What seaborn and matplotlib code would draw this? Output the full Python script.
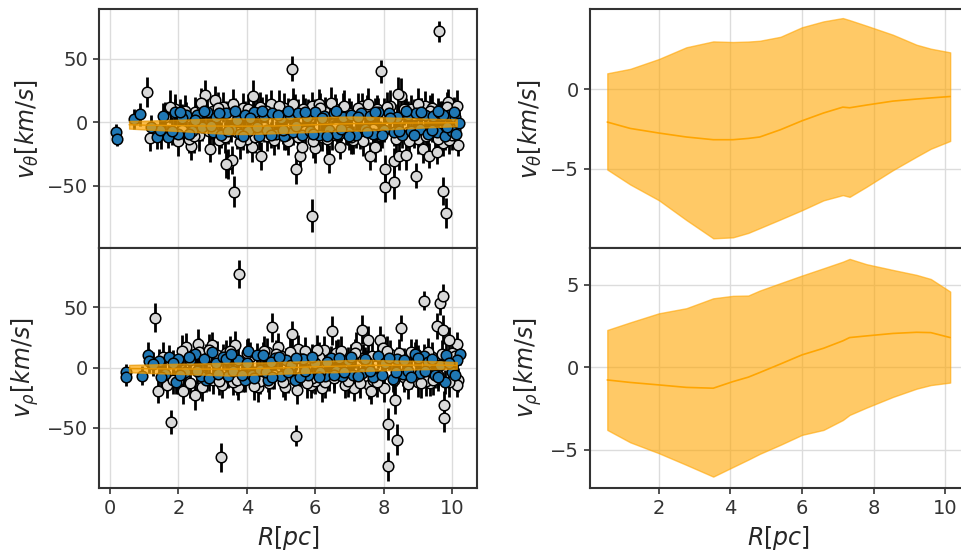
import numpy as np
import pandas as pd
import matplotlib
matplotlib.use("Agg")
import matplotlib.pyplot as plt
import seaborn as sns

# ---------------- data ----------------
# Posterior band: x, lower, mean, upper
band_x = [0.56, 1.2, 2.0, 2.77, 3.52, 4.07, 4.5, 4.82, 5.4, 6.0, 6.6, 7.14, 7.33, 7.8, 8.54, 9.2, 9.6, 10.14]
th_low = [-5.06, -6.0, -6.99, -8.24, -9.39, -9.33, -9.05, -8.75, -8.2, -7.62, -7.0, -6.67, -6.78, -6.15, -5.1, -4.25, -3.75, -3.26]
th_mean = [-2.07, -2.47, -2.76, -3.01, -3.18, -3.18, -3.1, -3.01, -2.55, -1.99, -1.5, -1.13, -1.17, -1.0, -0.75, -0.62, -0.55, -0.46]
th_up = [1.0, 1.28, 1.9, 2.64, 3.01, 2.97, 3.0, 3.05, 3.3, 3.9, 4.27, 4.48, 4.35, 4.0, 3.43, 2.8, 2.55, 2.32]

rh_low = [-3.80, -4.55, -5.21, -5.92, -6.63, -6.05, -5.6, -5.25, -4.7, -4.10, -3.8, -3.2, -2.89, -2.45, -1.8, -1.3, -1.08, -0.93]
rh_mean = [-0.77, -0.92, -1.07, -1.22, -1.27, -0.87, -0.6, -0.32, 0.2, 0.75, 1.15, 1.6, 1.8, 1.9, 2.05, 2.12, 2.1, 1.8]
rh_up = [2.26, 2.72, 3.27, 3.58, 4.18, 4.33, 4.35, 4.65, 5.1, 5.56, 6.0, 6.4, 6.57, 6.25, 5.9, 5.6, 5.35, 4.59]

# v_theta observed: grey points
tg_x = [1.09, 5.31, 7.92, 9.63, 3.63, 5.9, 9.73, 9.82, 8.04, 8.04, 8.29, 8.29, 8.45, 8.64, 8.94, 9.16, 9.34,
        9.57, 9.75, 10.16, 7.61, 7.75, 7.36, 7.8, 9.89, 9.21, 8.5, 8.43, 3.44, 3.56, 4.19, 4.39, 4.41, 4.14,
        5.44, 5.56, 5.6, 6.0, 6.41, 6.73, 6.58, 5.92, 6.1, 1.17, 2.36, 2.79, 3.06, 2.92, 3.38,
        1.6, 2.1, 2.5, 2.6, 2.7, 3.0, 3.2, 3.5, 3.7, 3.9, 4.0, 4.3, 4.6, 4.7, 4.9, 5.0, 5.2, 5.4, 5.7, 5.8,
        6.2, 6.3, 6.5, 6.8, 6.9, 7.0, 7.1, 7.3, 7.5, 7.7, 8.0, 8.2, 8.7, 8.8, 9.0, 9.1, 9.4, 9.5, 9.7, 9.9,
        10.05, 10.1, 1.9, 2.3, 3.3, 4.5, 5.1, 6.6, 7.9, 8.9,
        1.5, 1.75, 2.0, 2.2, 2.45, 2.65, 2.9, 3.15, 3.35, 3.6, 3.8, 4.05, 4.25, 4.55, 4.8, 4.95, 5.15, 5.35,
        5.5, 5.65, 5.95, 6.15, 6.35, 6.45, 6.7, 6.85, 7.05, 7.25, 7.4, 7.55, 7.85, 8.1, 8.35, 8.6, 8.75, 9.0,
        9.25, 9.35, 9.6, 9.85, 10.0, 10.15]
tg_y = [23.6, 42, 40, 71.4, -54.6, -73.5, -53.8, -71.4, -36.8, -51.2, -47.2, -30.2, -27, -25.8, -42, -21, -26.3,
        -23.6, -16.3, -17.6, -26.3, -19.7, 13, 10.5, 16.2, 12.6, 20.5, 22.3, -32.8, -29.4, 20.5, 11.8, -26.3, -19.7,
        -36.8, -26.3, -19.7, -20.5, -28.9, -19.2, 10.5, 12.6, 14.4, -12.6, -18.9, 21.5, 17.8, -21, -32.8,
        4, -6, 8, -10, 13, 9, -14, 6, -8, 11, -13, 7, -11, 14, -9, 5, -15, 9, -7, 6,
        -12, 8, -10, 12, -6, 7, -14, -9, 9, -5, 8, 13, -8, 10, -13, 7, 11, -9, 5, -14,
        8, -5, 10, -13, 12, -4, 11, -4, -11, 6,
        -9, 12, -15, 9, -11, 15, -7, 11, -12, 14, -16, 10, -12, 9, -14, 13, -10, 14,
        -12, 10, -15, 11, -13, 15, -9, 13, -12, 11, -15, 14, -9, 12, -13, 10, -15, 14,
        -11, 9, -13, 12, -10, 13]
tg_e = [12, 10, 9, 8, 12, 13, 11, 12, 11, 12, 13, 10, 11, 12, 10, 11, 10,
        9, 10, 9, 11, 12, 10, 11, 10, 12, 14, 13, 12, 11, 13, 12, 11, 12,
        12, 11, 10, 12, 11, 10, 12, 11, 12, 10, 11, 12, 11, 10, 11,
        12, 11, 12, 13, 11, 12, 11, 12, 13, 12, 11, 12, 12, 11, 12, 12, 11, 13, 12, 12,
        11, 12, 12, 11, 12, 12, 11, 12, 12, 12, 11, 12, 12, 11, 12, 12, 12, 11, 12, 11,
        12, 11, 12, 11, 12, 12, 12, 11, 12, 12,
        12, 13, 12, 12, 13, 12, 12, 13, 12, 12, 13, 12, 12, 13, 12, 12, 12, 13,
        12, 12, 13, 12, 12, 13, 12, 12, 13, 12, 12, 13, 12, 12, 13, 12, 12, 13,
        12, 12, 13, 12, 12, 12]

# v_theta observed: blue points
tb_x = [0.18, 0.21, 0.7, 0.88, 1.38, 1.7, 1.9, 2.23, 1.45, 2.0, 2.1, 2.4, 2.55, 2.7, 2.85, 3.0, 3.1, 3.25,
        3.4, 3.55, 3.7, 3.8, 3.95, 4.05, 4.2, 4.35, 4.5, 4.6, 4.75, 4.85, 5.0, 5.1, 5.25, 5.35, 5.5, 5.6,
        5.75, 5.85, 6.0, 6.1, 6.25, 6.4, 6.55, 6.65, 6.8, 6.95, 7.05, 7.2, 7.35, 7.45, 7.6, 7.7, 7.85, 8.0,
        8.15, 8.3, 8.4, 8.55, 8.7, 8.8, 8.95, 9.05, 9.2, 9.3, 9.45, 9.55, 9.65, 9.8, 9.9, 10.0, 10.1, 10.2,
        10.12, 9.75,
        1.2, 1.55, 1.8, 2.05, 2.3, 2.5, 2.75, 2.95, 3.2, 3.45, 3.65, 3.9, 4.1, 4.3, 4.45, 4.7, 4.9, 5.05,
        5.2, 5.45, 5.7, 5.95, 6.2, 6.35, 6.6, 6.75, 7.0, 7.25, 7.5, 7.75, 7.95, 8.2, 8.45, 8.65, 8.9, 9.1,
        9.4, 9.6, 9.85, 10.05]
tb_y = [-7.4, -13, 2.6, 6.3, -11.3, -11.3, 7.9, 5.7, -6, -9, 3, -7, 6, -4, 8, -8, 4, -10,
        7, -5, 2, -9, 6, -7, 8, -11, 5, -6, 7, -9, 3, -11, 6, -8, 7, -10,
        4, -7, 8, -10, 5, -6, 7, -9, 4, -8, 6, -10, 7, -5, 5, -9, 8, -6,
        7, -8, 4, -10, 6, -7, 7, -5, 6, -9, 5, -8, 7, -11, 6, -7, 4, -1,
        -9, 6,
        -4, 5, -7, 8, -9, 2, 9, -3, 7, -7, 9, -11, 3, -4, 9, -10, 6, -6,
        9, -3, 8, -9, 3, -11, 9, -5, -11, 4, -8, 8, -10, 3, -7, 9, -10, 8,
        -6, 9, -4, 8]
tb_e = [6, 6, 8, 9, 10, 9, 10, 10, 10, 10, 11, 10, 10, 11, 10, 10, 11, 10,
        10, 11, 10, 10, 11, 10, 10, 11, 10, 10, 11, 10, 10, 11, 10, 10, 11, 10,
        10, 11, 10, 10, 11, 10, 10, 11, 10, 10, 11, 10, 10, 11, 10, 10, 11, 10,
        10, 11, 10, 10, 11, 10, 10, 11, 10, 10, 11, 10, 10, 11, 10, 10, 10, 9,
        10, 10,
        10, 10, 11, 10, 10, 11, 10, 10, 11, 10, 10, 11, 10, 10, 11, 10, 10, 11,
        10, 10, 11, 10, 10, 11, 10, 10, 11, 10, 10, 11, 10, 10, 11, 10, 10, 11,
        10, 10, 11, 10]

# v_rho observed: grey points
rg_x = [1.32, 1.79, 3.25, 3.78, 4.75, 5.31, 6.5, 5.44, 9.18, 9.65, 9.75, 9.57, 9.73, 8.5, 8.14, 8.12, 8.38,
        8.33, 9.77, 9.77, 10.18, 10.14, 7.36, 7.55, 7.89, 7.99, 7.2, 10.14, 9.92, 7.13, 7.58, 7.62, 8.0, 9.36,
        9.24, 1.41, 1.68, 2.14, 2.23, 2.5, 2.58, 2.99, 3.14, 3.27, 3.65, 3.75, 4.34, 4.92, 5.13, 5.46, 5.49,
        5.7, 5.88, 6.19, 6.27, 6.68, 6.87,
        2.8, 3.0, 3.4, 3.9, 4.1, 4.4, 4.6, 4.8, 5.0, 5.2, 5.6, 6.0, 6.1, 6.4, 6.6, 7.0, 7.4, 7.7, 8.2, 8.6,
        8.8, 9.0, 9.4, 9.6, 10.0, 2.0, 2.6, 3.6, 4.5, 5.9,
        1.55, 1.85, 2.1, 2.35, 2.7, 2.9, 3.2, 3.5, 3.7, 4.0, 4.2, 4.65, 4.85, 5.05, 5.25, 5.75, 6.05, 6.3,
        6.55, 6.75, 6.95, 7.15, 7.3, 7.65, 7.8, 8.1, 8.3, 8.45, 8.7, 8.95, 9.1, 9.3, 9.45, 9.7, 9.9, 10.1]
rg_y = [41.3, -45.1, -74.4, 77.8, 33.5, 28, 30.7, -56.5, 55.6, 53.7, 59.8, 34.4, 31.6, 33, -46.8, -81.9, -59.8,
        -26.6, -30.7, -41.8, -10, -14.4, 31.6, 23.3, 22.8, 16.6, 17.2, 19.7, 22.8, -17.1, -14.1, -19.3, -16.9, -12.7,
        -11.3, -19.1, -14.6, -19.1, 16.9, -22.9, 19.7, 18.6, 10.3, -14.6, 18.6, -16.3, -16.3, 16.9, -16.3, -18.3, 15.8,
        13.6, -14.1, -16.9, 15, 11.4, -14.1,
        8, -10, 12, -8, 9, -11, 13, -6, 10, -9, 7, -11, 9, -7, 12, -9, 8, -10, 11, -8,
        13, -12, 9, -6, 12, -11, 13, -12, 14, -9,
        9, -10, 14, -13, -16, 15, -11, 14, -10, 12, -15, -13, 11, -12, 13, -13, 15, -12,
        -9, 14, -11, 12, -13, 10, -12, 14, -10, 12, -14, 11, -13, 13, -10, 11, -12, 10]
rg_e = [12, 10, 12, 12, 12, 11, 12, 9, 8, 10, 10, 11, 12, 11, 13, 12, 13,
        12, 11, 12, 10, 10, 12, 11, 12, 11, 12, 10, 11, 11, 12, 11, 12, 11,
        12, 10, 11, 11, 12, 12, 12, 11, 12, 11, 12, 11, 12, 12, 11, 12, 11,
        12, 11, 12, 11, 12, 11,
        12, 12, 11, 12, 12, 11, 12, 12, 11, 12, 12, 11, 12, 12, 11, 12, 12, 11, 12, 12,
        11, 12, 12, 11, 12, 11, 12, 11, 12, 12,
        12, 12, 13, 12, 12, 13, 12, 12, 13, 12, 12, 13, 12, 12, 13, 12, 12, 13,
        12, 12, 13, 12, 12, 13, 12, 12, 13, 12, 12, 13, 12, 12, 13, 12, 12, 12]

# v_rho observed: blue points
rb_x = [0.46, 0.48, 0.94, 1.11, 1.14, 1.43, 1.73, 1.92, 2.0, 2.5, 2.8, 2.97, 4.04, 4.29, 4.48, 4.82, 4.63,
        3.95, 5.41, 5.8, 6.29, 6.78, 3.46, 7.85, 8.27, 8.56, 9.06, 9.18, 9.5, 9.8, 9.82, 10.23, 7.36, 8.92,
        1.6, 2.2, 2.35, 2.65, 3.1, 3.3, 3.6, 3.75, 4.15, 4.4, 4.7, 5.0, 5.15, 5.3, 5.55, 5.65, 6.0, 6.15,
        6.45, 6.6, 6.95, 7.1, 7.5, 7.7, 8.05, 8.4, 8.7, 9.3, 9.65, 10.0, 10.15,
        1.25, 1.5, 1.85, 2.05, 2.3, 2.55, 2.75, 2.9, 3.15, 3.4, 3.55, 3.85, 4.0, 4.2, 4.55, 4.75, 4.95, 5.2,
        5.45, 5.7, 5.9, 6.1, 6.35, 6.55, 6.7, 6.85, 7.05, 7.25, 7.45, 7.6, 7.95, 8.15, 8.35, 8.6, 8.8, 9.0,
        9.2, 9.4, 9.6, 9.9, 10.1]
rb_y = [-3.6, -8, -6.6, 10.3, 5.8, 5.8, 8.6, -11.9, 7.5, 11.4, -10.5, 13, 13.6, 10.8, 10.3, 8.1, -10,
        -10, -10, -5.8, -7.1, -7.1, -7.1, 9.5, -9.1, -5.2, -4.4, 9.5, -6, -11.6, 10.5, 11.1, -4.4, 11.6,
        -5, -4, 6, -7, 4, 9, -3, 6, -6, -2, 5, -7, 6, 2, -8, 7, 4, -4,
        8, -3, 6, -6, 5, -8, 4, 7, -3, 5, 2, -4, 6,
        3, -8, 4, -6, 9, -3, 7, -9, -5, 7, 11, -6, 4, -9, -4, -8, 9, -4,
        8, -3, 9, -8, 5, -6, 8, -4, 9, -7, 7, -3, -6, 8, -4, 6, -8, 8,
        -3, 7, -8, 4, -6]
rb_e = [7, 7, 8, 11, 10, 10, 10, 10, 10, 11, 10, 11, 11, 10, 11, 10, 10,
        10, 11, 10, 10, 10, 10, 10, 11, 10, 10, 10, 11, 10, 10, 9, 10, 10,
        10, 10, 11, 10, 10, 11, 10, 10, 11, 10, 10, 11, 10, 10, 11, 10, 10, 11,
        10, 10, 11, 10, 10, 11, 10, 10, 11, 10, 10, 10, 10,
        10, 10, 11, 10, 10, 11, 10, 10, 11, 10, 10, 11, 10, 10, 11, 10, 10, 11,
        10, 10, 11, 10, 10, 11, 10, 10, 11, 10, 10, 11, 10, 10, 11, 10, 10, 11,
        10, 10, 11, 10, 10]

ORANGE = "orange"
BLUE = "#1f77b4"
GREY = "#d9d9d9"

sns.set_theme(style="whitegrid", rc={
    "axes.edgecolor": "#333333",
    "axes.linewidth": 1.5,
    "grid.color": "#dcdcdc",
    "grid.linewidth": 1.0,
    "xtick.bottom": True,
    "ytick.left": True,
    "xtick.color": "#333333",
    "ytick.color": "#333333",
    "xtick.major.size": 4,
    "ytick.major.size": 4,
    "xtick.major.width": 1.2,
    "ytick.major.width": 1.2,
})
plt.rcParams["font.family"] = ["DejaVu Sans"]
plt.rcParams["mathtext.fontset"] = "dejavusans"

fig = plt.figure(figsize=(9.61, 5.52), dpi=100)
lx0, lx1 = 99 / 961, 477 / 961
rx0, rx1 = 590 / 961, 967 / 961
ytop, ymid, ybot = 1 - 9 / 552, 1 - 248 / 552, 1 - 488 / 552

ax_tl = fig.add_axes([lx0, ymid, lx1 - lx0, ytop - ymid])
ax_bl = fig.add_axes([lx0, ybot, lx1 - lx0, ymid - ybot], sharex=ax_tl)
ax_tr = fig.add_axes([rx0, ymid, rx1 - rx0, ytop - ymid])
ax_br = fig.add_axes([rx0, ybot, rx1 - rx0, ymid - ybot], sharex=ax_tr)


def draw_obs(ax, gx, gy, ge, bx, by, be, low, mean, up):
    ax.errorbar(gx, gy, yerr=ge, fmt="none", ecolor="black", elinewidth=2, zorder=2)
    ax.errorbar(bx, by, yerr=be, fmt="none", ecolor="black", elinewidth=2, zorder=2)
    dg = pd.DataFrame({"R": gx, "v": gy})
    db = pd.DataFrame({"R": bx, "v": by})
    sns.scatterplot(data=dg, x="R", y="v", ax=ax, color=GREY, s=58, edgecolor="black",
                    linewidth=1.1, zorder=3)
    sns.scatterplot(data=db, x="R", y="v", ax=ax, color=BLUE, s=58, edgecolor="black",
                    linewidth=1.1, zorder=4)
    ax.fill_between(band_x, low, up, color=ORANGE, alpha=0.7, edgecolor="#e69500", lw=1, zorder=5)
    sns.lineplot(x=band_x, y=mean, ax=ax, color="#e69500", lw=1, zorder=6)


def draw_band(ax, low, mean, up):
    ax.fill_between(band_x, low, up, color=ORANGE, alpha=0.6, edgecolor=ORANGE, lw=1, zorder=2)
    sns.lineplot(x=band_x, y=mean, ax=ax, color=ORANGE, lw=1.2, zorder=3)


draw_obs(ax_tl, tg_x, tg_y, tg_e, tb_x, tb_y, tb_e, th_low, th_mean, th_up)
draw_obs(ax_bl, rg_x, rg_y, rg_e, rb_x, rb_y, rb_e, rh_low, rh_mean, rh_up)
draw_band(ax_tr, th_low, th_mean, th_up)
draw_band(ax_br, rh_low, rh_mean, rh_up)

ax_tl.set_xlim(-0.32, 10.73)
ax_tl.set_ylim(-99, 89)
ax_bl.set_ylim(-100, 99.4)
ax_tl.set_yticks([-50, 0, 50])
ax_bl.set_yticks([-50, 0, 50])
ax_bl.set_xticks([0, 2, 4, 6, 8, 10])

ax_tr.set_xlim(0.077, 10.61)
ax_tr.set_ylim(-10.0, 5.05)
ax_br.set_ylim(-7.32, 7.23)
ax_tr.set_yticks([-5, 0])
ax_br.set_yticks([-5, 0, 5])
ax_br.set_xticks([2, 4, 6, 8, 10])

for ax in (ax_tl, ax_tr):
    ax.tick_params(labelbottom=False)
    ax.set_xlabel("")

lab_fs = 17
ax_tl.set_ylabel(r"$v_{\theta}[km/s]$", fontsize=lab_fs)
ax_bl.set_ylabel(r"$v_{\rho}[km/s]$", fontsize=lab_fs)
ax_tr.set_ylabel(r"$v_{\theta}[km/s]$", fontsize=lab_fs)
ax_br.set_ylabel(r"$v_{\rho}[km/s]$", fontsize=lab_fs)
ax_bl.set_xlabel(r"$R[pc]$", fontsize=lab_fs)
ax_br.set_xlabel(r"$R[pc]$", fontsize=lab_fs)

for ax in (ax_tl, ax_bl, ax_tr, ax_br):
    ax.tick_params(labelsize=14, colors="#333333", pad=4)
    ax.grid(True, color="#dcdcdc", lw=1.0)
    ax.set_axisbelow(True)
    for s in ax.spines.values():
        s.set_color("#333333")
        s.set_linewidth(1.5)

fig.savefig("out.png", dpi=100)
